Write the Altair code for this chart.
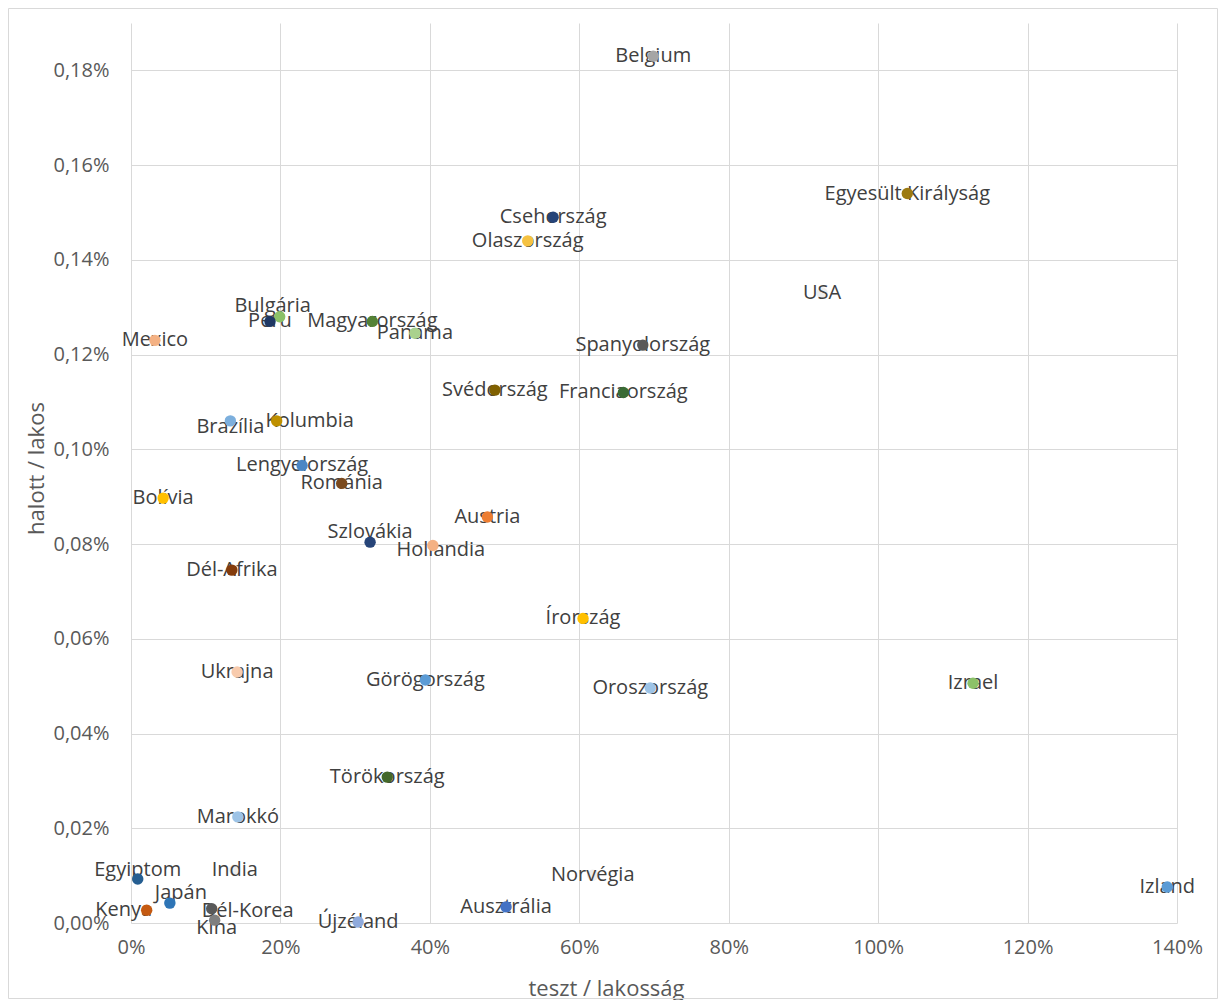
import altair as alt
import pandas as pd

countries = ["Belgium", "Egyesült Királyság", "Csehország", "Olaszország", "USA",
             "Bulgária", "Peru", "Magyarország", "Panama", "Mexico",
             "Spanyolország", "Svédország", "Franciaország", "Brazília", "Kolumbia",
             "Lengyelország", "Románia", "Bolívia", "Szlovákia", "Austria",
             "Hollandia", "Dél-Afrika", "Írország", "Ukrajna", "Görögország",
             "Oroszország", "Izrael", "Törökország", "Marokkó", "Egyiptom",
             "India", "Japán", "Kenya", "Dél-Korea", "Kína",
             "Újzéland", "Ausztrália", "Norvégia", "Izland"]

teszt = [0.699, 1.039, 0.565, 0.531, 0.925,
         0.199, 0.186, 0.323, 0.380, 0.032,
         0.685, 0.487, 0.659, 0.133, 0.195,
         0.229, 0.282, 0.043, 0.320, 0.477,
         0.404, 0.135, 0.605, 0.142, 0.394,
         0.695, 1.127, 0.343, 0.143, 0.009,
         0.139, 0.052, 0.021, 0.108, 0.112,
         0.304, 0.502, 0.618, 1.387]

halott = [0.00183, 0.00154, 0.00149, 0.00144, 0.00133,
          0.00128, 0.00127, 0.00127, 0.001245, 0.00123,
          0.00122, 0.001125, 0.00112, 0.00106, 0.00106,
          0.000966, 0.000928, 0.000897, 0.000804, 0.000857,
          0.000797, 0.000745, 0.000643, 0.00053, 0.000513,
          0.000496, 0.000506, 0.000308, 0.000224, 0.000093,
          0.000112, 0.000042, 0.000027, 0.00003, 0.000006,
          0.000002, 0.000034, 0.000101, 0.000076]

colors = ["#A5A5A5", "#9C7A12", "#264478", "#F5C242", "#EDEDED",
          "#8CC168", "#1F3864", "#548235", "#A9D18E", "#F4B183",
          "#595959", "#806000", "#3A6B35", "#7CAFDD", "#BF9000",
          "#4A86C5", "#7B4A1E", "#FFC000", "#264478", "#ED7D31",
          "#F4B183", "#843C0C", "#FFC000", "#F8CBAD", "#5B9BD5",
          "#9DC3E6", "#8CC168", "#43682B", "#9DC3E6", "#255E91",
          "#EDEDED", "#2E75B6", "#C55A11", "#595959", "#7F7F7F",
          "#8FAADC", "#4472C4", "#EDEDED", "#5B9BD5"]

# series whose (near-white) markers sit hidden beneath their labels
faint = ["USA", "India", "Norvégia"]

x_ticks = [0, 0.2, 0.4, 0.6, 0.8, 1.0, 1.2, 1.4]
y_ticks = [0, 0.0002, 0.0004, 0.0006, 0.0008, 0.0010, 0.0012, 0.0014, 0.0016, 0.0018]

# label nudges (pixels) for labels Excel placed off-center
nudges = {
    "Bulgária": (-7, -11), "Kolumbia": (33, 0), "Szlovákia": (0, -10),
    "Egyiptom": (0, -9), "Japán": (11, -10), "Kenya": (-23, 0),
    "Dél-Korea": (36, 2), "Kína": (2, 8), "Hollandia": (8, 5), "Brazília": (0, 6),
}

df = pd.DataFrame({"country": countries, "teszt": teszt, "halott": halott})

FONT = "Open Sans"
W, H = 1046, 900

xenc = alt.X("teszt:Q", scale=alt.Scale(domain=[0, 1.4], nice=False),
             axis=alt.Axis(values=x_ticks, format=".0%", title="teszt / lakosság",
                           grid=True, ticks=False, domain=False, labelPadding=14,
                           labelFlush=False,
                           titleX=475, titleY=65, titleBaseline="middle", titleAlign="center"))
yenc = alt.Y("halott:Q", scale=alt.Scale(domain=[0, 0.0019], nice=False),
             axis=alt.Axis(values=y_ticks, labelExpr="replace(format(datum.value, '.2%'), '.', ',')",
                           title="halott / lakos", grid=True, ticks=False, domain=False,
                           labelPadding=22, labelFlush=False,
                           titleX=-95, titleY=445, titleAngle=270,
                           titleBaseline="middle", titleAlign="center"))

base = alt.Chart(df)
colorenc = alt.Color("country:N", scale=alt.Scale(domain=countries, range=colors), legend=None)

frame = alt.Chart(pd.DataFrame({"a": [0]})).mark_rect(
    fill=None, stroke="#D9D9D9", strokeWidth=1
).encode(x=alt.value(-122.5), x2=alt.value(1086.5), y=alt.value(-14.5), y2=alt.value(975.5))

# faint markers drawn below the labels
faint_points = base.transform_filter(
    alt.FieldOneOfPredicate(field="country", oneOf=faint)
).mark_circle(size=130, opacity=1).encode(x=xenc, y=yenc, color=colorenc)

layers = [frame, faint_points]

centered = [c for c in countries if c not in nudges]
layers.append(
    base.transform_filter(alt.FieldOneOfPredicate(field="country", oneOf=centered))
    .mark_text(font=FONT, fontSize=20, color="#404040", baseline="middle", align="center")
    .encode(x=xenc, y=yenc, text="country:N")
)
for name, (dx, dy) in nudges.items():
    layers.append(
        base.transform_filter(alt.FieldEqualPredicate(field="country", equal=name))
        .mark_text(font=FONT, fontSize=20, color="#404040", baseline="middle", align="center",
                   dx=dx, dy=dy)
        .encode(x=xenc, y=yenc, text="country:N")
    )

points = base.transform_filter(
    ~alt.FieldOneOfPredicate(field="country", oneOf=faint)
).mark_circle(size=130, opacity=1).encode(x=xenc, y=yenc, color=colorenc)
layers.append(points)

chart = alt.layer(*layers).properties(
    width=W, height=H,
    autosize=alt.AutoSizeParams(type="none"),
    padding={"left": 123, "top": 15, "right": 41, "bottom": 77},
    background="white",
).configure_view(stroke=None).configure_axis(
    gridColor="#D9D9D9", gridWidth=1, labelFont=FONT, labelFontSize=20, labelColor="#595959",
    titleFont=FONT, titleFontSize=22, titleColor="#595959", titleFontWeight="normal",
)

chart.save("out.html", embed_options={"renderer": "svg", "actions": False})
